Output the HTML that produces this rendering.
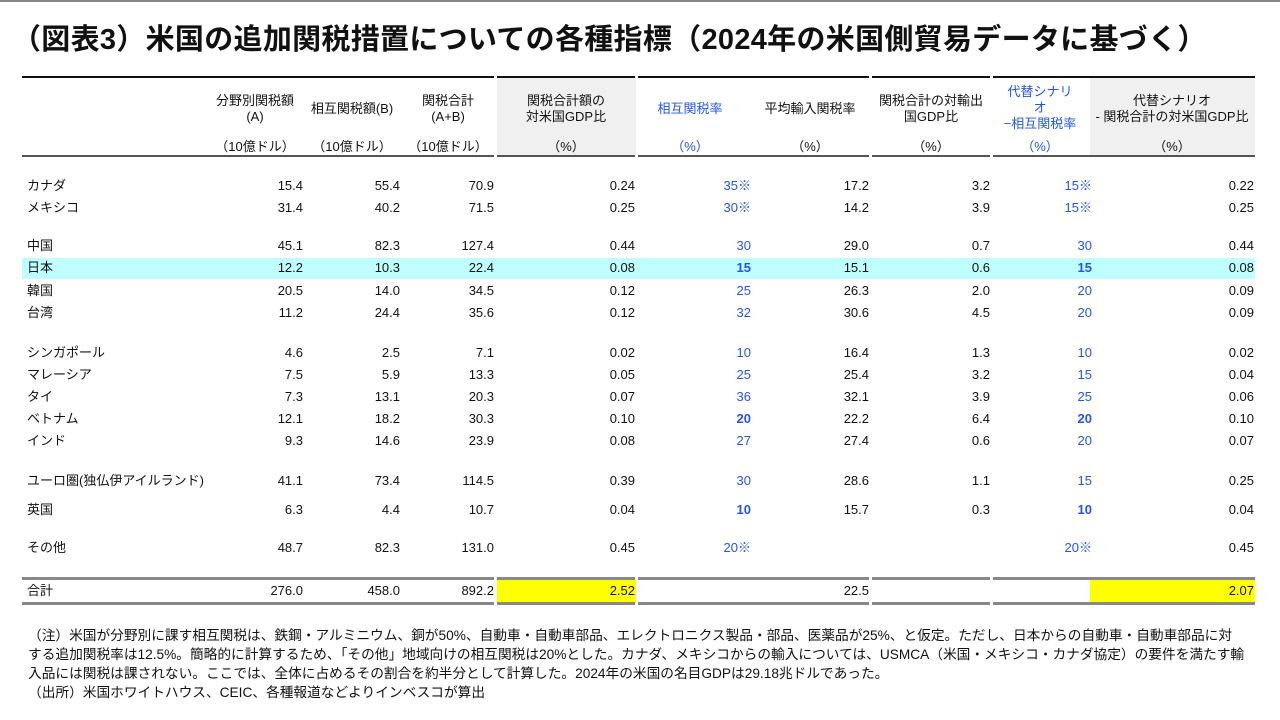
<!DOCTYPE html>
<html><head><meta charset="utf-8">
<style>
body{margin:0;width:1280px;height:720px;background:#fff;position:relative;overflow:hidden;font-family:"Liberation Sans","Noto Sans CJK JP",sans-serif;color:#111;}
.t{position:absolute;white-space:nowrap;font-size:13px;line-height:16px;}
.r{text-align:right}
.c{text-align:center}
.blue{color:#2255ee}
.b{font-weight:bold}
.line{position:absolute;}
</style></head><body>
<div class="line" style="left:0;top:0;width:1280px;height:2px;background:#888"></div>
<div class="t" style="left:12px;top:22px;font-size:29px;line-height:36px;font-weight:bold;letter-spacing:0.3px">（図表3）米国の追加関税措置についての各種指標（2024年の米国側貿易データに基づく）</div>

<div class="line" style="left:497px;top:77px;width:139px;height:80px;background:#f0f0f0"></div>
<div class="line" style="left:1090px;top:77px;width:165px;height:80px;background:#f0f0f0"></div>
<div class="line" style="left:497px;top:579px;width:139px;height:24px;background:#ffff00"></div>
<div class="line" style="left:1090px;top:579px;width:165px;height:24px;background:#ffff00"></div>
<div class="line" style="left:22px;top:258px;width:1233px;height:21px;background:#bfffff"></div>

<div id="lines"></div>
<div id="hdr"></div>
<div id="body"></div>

<div class="t" style="left:28px;top:626px;font-size:13.7px;line-height:19px">（注）米国が分野別に課す相互関税は、鉄鋼・アルミニウム、銅が50%、自動車・自動車部品、エレクトロニクス製品・部品、医薬品が25%、と仮定。ただし、日本からの自動車・自動車部品に対<br>する追加関税率は12.5%。簡略的に計算するため、「その他」地域向けの相互関税は20%とした。カナダ、メキシコからの輸入については、USMCA（米国・メキシコ・カナダ協定）の要件を満たす輸<br>入品には関税は課されない。ここでは、全体に占めるその割合を約半分として計算した。2024年の米国の名目GDPは29.18兆ドルであった。<br>（出所）米国ホワイトハウス、CEIC、各種報道などよりインベスコが算出</div>

<script>
const countries=["カナダ","メキシコ","中国","日本","韓国","台湾","シンガポール","マレーシア","タイ","ベトナム","インド","ユーロ圏(独仏伊アイルランド)","英国","その他","合計"];
const rowY=[186,208,246,268,291,313,353,375,397,419,441,481,510,548,591];
const sectoral=["15.4","31.4","45.1","12.2","20.5","11.2","4.6","7.5","7.3","12.1","9.3","41.1","6.3","48.7","276.0"];
const reciprocal=["55.4","40.2","82.3","10.3","14.0","24.4","2.5","5.9","13.1","18.2","14.6","73.4","4.4","82.3","458.0"];
const total=["70.9","71.5","127.4","22.4","34.5","35.6","7.1","13.3","20.3","30.3","23.9","114.5","10.7","131.0","892.2"];
const gdpRatio=["0.24","0.25","0.44","0.08","0.12","0.12","0.02","0.05","0.07","0.10","0.08","0.39","0.04","0.45","2.52"];
const rate=["35※","30※","30","15","25","32","10","25","36","20","27","30","10","20※",""];
const avgRate=["17.2","14.2","29.0","15.1","26.3","30.6","16.4","25.4","32.1","22.2","27.4","28.6","15.7","","22.5"];
const exportRatio=["3.2","3.9","0.7","0.6","2.0","4.5","1.3","3.2","3.9","6.4","0.6","1.1","0.3","",""];
const altRate=["15※","15※","30","15","20","20","10","15","25","20","20","15","10","20※",""];
const altGdp=["0.22","0.25","0.44","0.08","0.09","0.09","0.02","0.04","0.06","0.10","0.07","0.25","0.04","0.45","2.07"];
const boldRows=[3,9,12];

const cols=[
 {d:sectoral,r:303,n:"sectoral"},{d:reciprocal,r:400,n:"reciprocal"},{d:total,r:494,n:"total"},
 {d:gdpRatio,r:635,n:"gdp-ratio"},{d:rate,r:751,n:"rate",blue:1},{d:avgRate,r:869,n:"avg-rate"},
 {d:exportRatio,r:990,n:"export-ratio"},{d:altRate,r:1092,n:"alt-rate",blue:1},{d:altGdp,r:1254,n:"alt-gdp"}];

function mk(parent,txt,cls,style){const e=document.createElement('div');e.className=cls;e.style.cssText=style;e.innerHTML=txt;parent.appendChild(e);return e;}
const body=document.getElementById('body');
countries.forEach((c,i)=>{
 const y=rowY[i]-8;
 const e=mk(body,c,'t','left:27px;top:'+y+'px');
 
 
 cols.forEach(col=>{
  const v=col.d[i]; if(!v) return;
  let cls='t r'+(col.blue?' blue':'')+(col.blue&&boldRows.includes(i)?' b':'');
  const el=mk(body,v,cls,'left:'+(col.r-100)+'px;width:100px;top:'+y+'px');
  
  
 });
});

const hdr=document.getElementById('hdr');
const heads=[
 {cx:255,t:"分野別関税額<br>(A)",y:93,u:"（10億ドル）"},
 {cx:352,t:"相互関税額(B)",y:101,u:"（10億ドル）"},
 {cx:448,t:"関税合計<br>(A+B)",y:93,u:"（10億ドル）"},
 {cx:566,t:"関税合計額の<br>対米国GDP比",y:93,u:"（%）"},
 {cx:690,t:"相互関税率",y:101,u:"（%）",blue:1},
 {cx:810,t:"平均輸入関税率",y:101,u:"（%）"},
 {cx:931,t:"関税合計の対輸出<br>国GDP比",y:93,u:"（%）"},
 {cx:1040,t:"代替シナリ<br>オ<br>−相互関税率",y:84,u:"（%）",blue:1},
 {cx:1172,t:"代替シナリオ<br>- 関税合計の対米国GDP比",y:93,u:"（%）"}];
heads.forEach((h,i)=>{
 const e=mk(hdr,h.t,'t c'+(h.blue?' blue':''),'left:'+(h.cx-90)+'px;width:180px;top:'+h.y+'px;line-height:16px');
 
 
 const u=mk(hdr,h.u,'t c'+(h.blue?' blue':''),'left:'+(h.cx-90)+'px;width:180px;top:139px');
 
 
});

const L=document.getElementById('lines');
const segs=[[22,494],[497,635],[638,869],[872,990],[993,1255]];
segs.forEach((s,i)=>{
 [[76,2,'#111'],[155,2,'#555'],[577,3,'#888'],[602,3,'#888']].forEach((p,j)=>{
  const e=mk(L,'','line','left:'+s[0]+'px;width:'+(s[1]-s[0])+'px;top:'+p[0]+'px;height:'+p[1]+'px;background:'+p[2]);
  
  
 });
});
</script>
</body></html>
